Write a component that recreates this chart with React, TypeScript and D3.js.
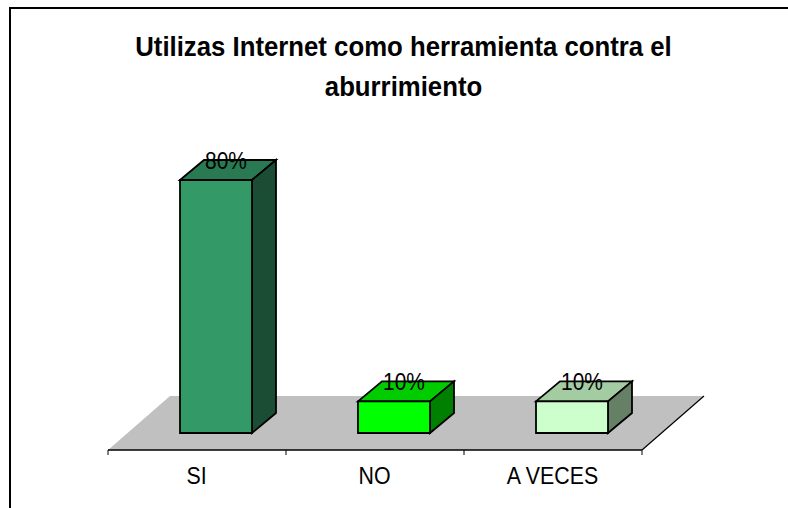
import React from "react";
import * as d3 from "d3";

const categories = ["SI", "NO", "A VECES"];
const values = [80, 10, 10];
const labels = ["80%", "10%", "10%"];
const frontColors = ["#339966", "#00FF00", "#CCFFCC"];
const topColors = ["#297A52", "#00CC00", "#A3CCA3"];
const sideColors = ["#1A4D33", "#008000", "#668066"];
const titleLines = ["Utilizas Internet como herramienta contra el", "aburrimiento"];

const FONT = "'Liberation Sans', Arial, sans-serif";
const x = d3.scaleBand<string>().domain(categories).range([108, 642]);
const y = d3.scaleLinear().domain([0, 80]).range([433, 180]);
const barWidth = 72;
const frontOffset = 19;
const depth = { dx: 24, dy: -20 };
const floorDepth = { dx: 62, dy: -54 };
const axisY = 450;

const poly = (pts: [number, number][]) => (d3.line()(pts) ?? "") + "Z";

function Squeezed({ x: px, y: py, sx, children }: { x: number; y: number; sx: number; children: string }) {
  return (
    <text transform={`translate(${px},${py}) scale(${sx},1)`}>{children}</text>
  );
}

export default function App() {
  const [x0, x1] = x.range();
  return (
    <svg width={788} height={508} style={{ position: "absolute", left: 0, top: 0, background: "#fff" }}>
      <path d="M10 508V8H788" fill="none" stroke="#000" strokeWidth={2} />
      <g fontFamily={FONT} fontWeight="bold" fontSize={28} textAnchor="middle" fill="#000">
        {titleLines.map((t, i) => (
          <Squeezed key={t} x={403.5} y={56 + i * 40} sx={0.92}>{t}</Squeezed>
        ))}
      </g>
      <path
        d={poly([[x0, axisY], [x0 + floorDepth.dx, axisY + floorDepth.dy], [x1 + floorDepth.dx, axisY + floorDepth.dy], [x1, axisY]])}
        fill="#C0C0C0"
      />
      <path d={`M${x0} ${axisY}L${x0 + floorDepth.dx} ${axisY + floorDepth.dy}H${x1 + floorDepth.dx - 1}`} fill="none" stroke="#fff" strokeWidth={1} transform="translate(0,-1)" />
      <path d={`M${x1} ${axisY}L${x1 + floorDepth.dx} ${axisY + floorDepth.dy}`} fill="none" stroke="#000" strokeWidth={1.2} />
      <g stroke="#000" strokeWidth={1.8} strokeLinejoin="miter">
        {categories.map((c, i) => {
          const cx = x(c)! + x.bandwidth() / 2 + frontOffset;
          const l = cx - barWidth / 2;
          const r = cx + barWidth / 2;
          const t = y(values[i]);
          const b = y(0);
          return (
            <g key={c}>
              <path d={poly([[l, t], [l + depth.dx, t + depth.dy], [r + depth.dx, t + depth.dy], [r, t]])} fill={topColors[i]} />
              <path d={poly([[r, t], [r + depth.dx, t + depth.dy], [r + depth.dx, b + depth.dy], [r, b]])} fill={sideColors[i]} />
              <path d={poly([[l, t], [r, t], [r, b], [l, b]])} fill={frontColors[i]} />
            </g>
          );
        })}
      </g>
      <g stroke="#000">
        <line x1={x0} x2={x1} y1={axisY} y2={axisY} strokeWidth={1.6} />
        {[...categories.map((c) => x(c)!), x1].map((v) => (
          <line key={v} x1={v} x2={v} y1={axisY} y2={axisY + 5} strokeWidth={1} />
        ))}
      </g>
      <g fontFamily={FONT} fontSize={24} textAnchor="middle" fill="#000" fontWeight={300}>
        {categories.map((c) => (
          <Squeezed key={c} x={x(c)! + x.bandwidth() / 2 - 0.5} y={484} sx={0.89}>{c}</Squeezed>
        ))}
        {categories.map((c, i) => (
          <Squeezed key={c + "v"} x={x(c)! + x.bandwidth() / 2 + 29} y={y(values[i]) - 11.5} sx={0.87}>{labels[i]}</Squeezed>
        ))}
      </g>
    </svg>
  );
}
